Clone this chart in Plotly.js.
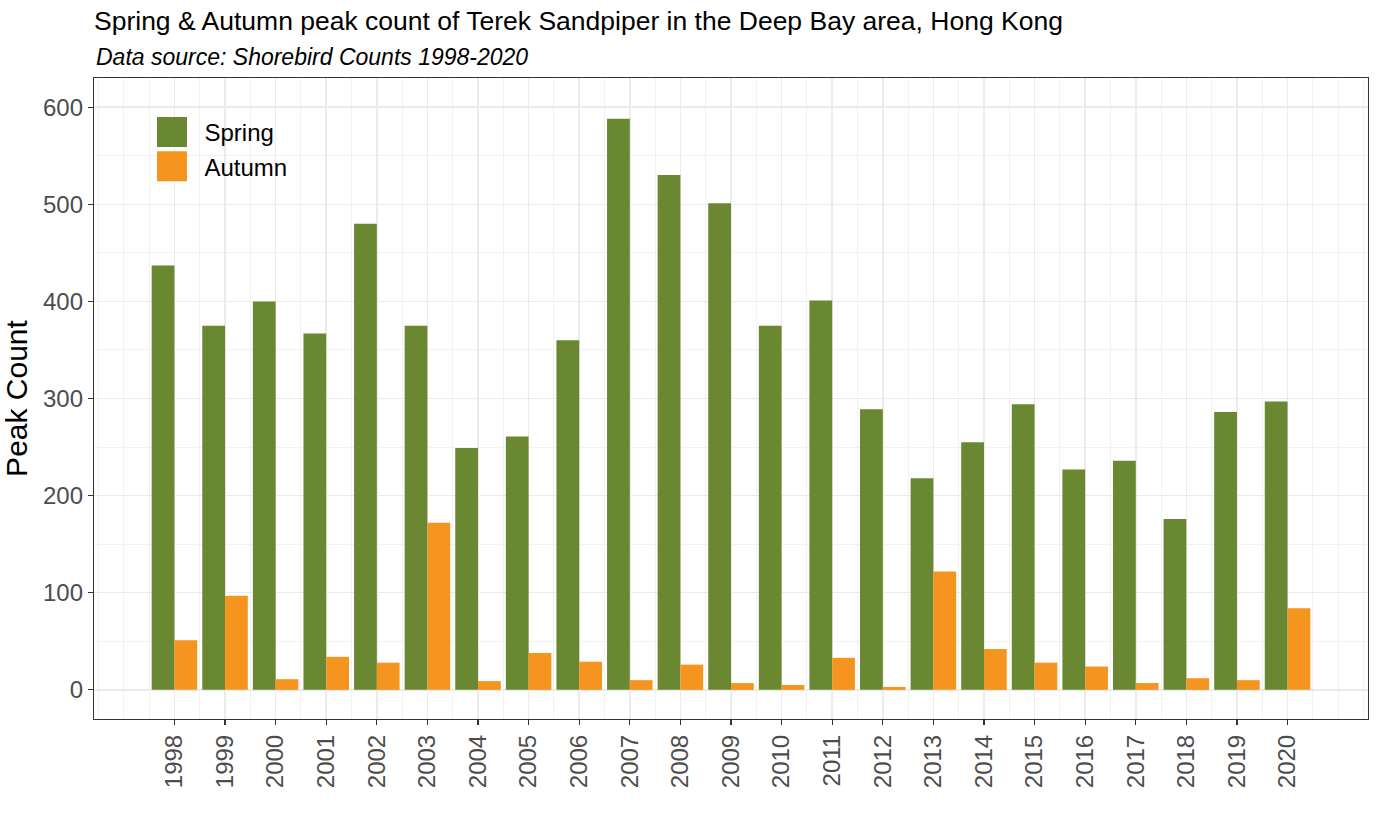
<!DOCTYPE html>
<html>
<head>
<meta charset="utf-8">
<script src="https://cdn.plot.ly/plotly-3.0.1.min.js"></script>
<style>html,body{margin:0;padding:0;background:#fff;}#chart{width:1379px;height:827px;}</style>
</head>
<body>
<div id="chart"></div>
<script>
const years = [1998,1999,2000,2001,2002,2003,2004,2005,2006,2007,2008,2009,2010,2011,2012,2013,2014,2015,2016,2017,2018,2019,2020];
const spring = [437,375,400,367,480,375,249,261,360,588,530,501,375,401,289,218,255,294,227,236,176,286,297];
const autumn = [51,97,11,34,28,172,9,38,29,10,26,7,5,33,3,122,42,28,24,7,12,10,84];
const yTicks = [0,100,200,300,400,500,600];
const seriesNames = ['Spring','Autumn'];
const titleText = 'Spring & Autumn peak count of Terek Sandpiper in the Deep Bay area, Hong Kong';
const subtitleText = 'Data source: Shorebird Counts 1998-2020';
const yTitle = 'Peak Count';

const FONT = 'Liberation Sans, Arial, Helvetica, sans-serif';

const traces = [
  {type:'bar', name:seriesNames[0], x:years, y:spring, marker:{color:'#6A8731', line:{width:0}}},
  {type:'bar', name:seriesNames[1], x:years, y:autumn, marker:{color:'#F5951F', line:{width:0}}}
];

const layout = {
  width:1379, height:827,
  paper_bgcolor:'#ffffff', plot_bgcolor:'#ffffff',
  margin:{l:94, r:11, t:78, b:108, pad:0},
  barmode:'group', bargap:0.1, bargroupgap:0,
  font:{family:FONT, color:'#000000'},
  title:{text:titleText, font:{family:FONT, size:26.5, color:'#000000'},
         xref:'container', x:94/1379, xanchor:'left',
         yref:'container', y:1-21/827, yanchor:'middle'},
  annotations:[
    {text:subtitleText, xref:'paper', yref:'paper', x:0, y:1.0335, xanchor:'left', yanchor:'middle',
     showarrow:false, font:{family:FONT, size:23, color:'#000000', style:'italic'}}
  ],
  shapes:[
    {type:'rect', xref:'paper', yref:'paper', x0:0.0398, x1:0.1591, y0:0.8221, y1:0.9782,
     fillcolor:'#ffffff', line:{width:0}, layer:'between'}
  ],
  xaxis:{
    type:'linear', range:[1996.41, 2021.59],
    tickmode:'array', tickvals:years, ticktext:years.map(String),
    tickangle:-90, tickfont:{family:FONT, size:24, color:'#4D4D4D'},
    ticks:'outside', ticklen:5, tickwidth:1.2, tickcolor:'#333333',
    showgrid:true, gridcolor:'#EBEBEB', gridwidth:1.5,
    minor:{tickmode:'linear', tick0:0, dtick:0.5, showgrid:true, gridcolor:'#EFEFEF', gridwidth:0.8},
    showline:true, linecolor:'#333333', linewidth:1.2, mirror:true,
    zeroline:false, automargin:false, fixedrange:true
  },
  yaxis:{
    range:[-30, 630],
    tickmode:'array', tickvals:yTicks, ticktext:yTicks.map(String),
    tickfont:{family:FONT, size:24, color:'#4D4D4D'},
    ticks:'outside', ticklen:5, tickwidth:1.2, tickcolor:'#333333',
    showgrid:true, gridcolor:'#EBEBEB', gridwidth:1.5,
    minor:{tickmode:'linear', tick0:0, dtick:50, showgrid:true, gridcolor:'#EFEFEF', gridwidth:0.8},
    showline:true, linecolor:'#333333', linewidth:1.2, mirror:true,
    zeroline:false, automargin:false, fixedrange:true,
    title:{text:yTitle, font:{family:FONT, size:30, color:'#000000'}, standoff:6}
  },
  legend:{
    x:0.0357, xanchor:'left', y:0.8886, yanchor:'middle',
    bgcolor:'rgba(0,0,0,0)', borderwidth:0,
    font:{family:FONT, size:24, color:'#000000'},
    itemwidth:55, traceorder:'normal', tracegroupgap:0
  },
  showlegend:true
};

Plotly.newPlot('chart', traces, layout, {displayModeBar:false, staticPlot:true}).then(function(){
  document.querySelectorAll('.legend .legendpoints path').forEach(function(p){
    const t = p.getAttribute('transform') || '';
    p.setAttribute('transform', t + ' scale(2.5)');
  });
});
</script>
</body>
</html>
